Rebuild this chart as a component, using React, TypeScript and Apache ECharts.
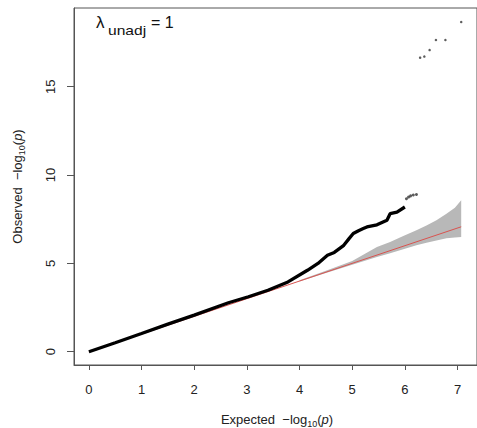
import React, { useEffect, useRef } from "react";
import * as echarts from "echarts";

// Observed vs expected -log10(p), main dense part of the curve
const curveX = [0, 0.5, 1, 1.5, 2, 2.65, 3.03, 3.4, 3.78, 4.15, 4.35, 4.53, 4.66, 4.84, 4.94, 5.02, 5.12, 5.21, 5.28, 5.47, 5.66, 5.72, 5.85, 6.0];
const curveY = [0, 0.51, 1.03, 1.56, 2.07, 2.77, 3.11, 3.48, 3.95, 4.61, 5.0, 5.46, 5.62, 6.02, 6.4, 6.69, 6.85, 6.97, 7.06, 7.18, 7.44, 7.81, 7.9, 8.19];
// small cluster just after the gap
const clusterX = [6.03, 6.07, 6.11, 6.16, 6.22];
const clusterY = [8.66, 8.75, 8.82, 8.87, 8.9];
// isolated top hits
const topX = [6.29, 6.37, 6.47, 6.59, 6.77, 7.07];
const topY = [16.64, 16.7, 17.07, 17.64, 17.64, 18.66];
// confidence band
const bandX = [4.0, 4.5, 5.0, 5.47, 5.72, 5.97, 6.22, 6.41, 6.6, 6.79, 6.95, 7.07];
const bandLo = [3.97, 4.45, 4.92, 5.36, 5.58, 5.8, 6.02, 6.17, 6.3, 6.42, 6.47, 6.49];
const bandHi = [4.04, 4.58, 5.14, 5.93, 6.21, 6.55, 6.87, 7.15, 7.44, 7.81, 8.15, 8.57];
// null line y = x
const nullX = [0, 7.07];
const xTicks = [0, 1, 2, 3, 4, 5, 6, 7];
const yTicks = [0, 5, 10, 15];

const FONT = "Liberation Sans, Arial, Helvetica, sans-serif";

export default function App() {
  const ref = useRef<HTMLDivElement>(null);
  useEffect(() => {
    if (!ref.current) return;
    const chart = echarts.init(ref.current, null, { renderer: "svg" });
    const axisColor = "#555";
    const rich = {
      n: { fontSize: 13, fontFamily: FONT, fill: "#222", lineHeight: 16, verticalAlign: "bottom" },
      s: { fontSize: 9, fontFamily: FONT, fill: "#222", lineHeight: 16, verticalAlign: "bottom", padding: [0, 0, -2, 0] },
      i: { fontSize: 13, fontFamily: FONT, fill: "#222", fontStyle: "italic", lineHeight: 16, verticalAlign: "bottom" },
    };
    chart.setOption({
      animation: false,
      backgroundColor: "#fff",
      grid: { left: 74, top: 8, right: -4, bottom: 63, show: true, borderColor: axisColor, borderWidth: 1, backgroundColor: "transparent" },
      xAxis: {
        type: "value",
        min: -0.283,
        max: 7.37,
        splitLine: { show: false },
        axisLine: { show: true, onZero: false, lineStyle: { color: axisColor } },
        axisTick: { show: true, length: 5, lineStyle: { color: axisColor }, customValues: xTicks },
        axisLabel: { color: "#222", fontSize: 13, fontFamily: FONT, margin: 18, customValues: xTicks },
      },
      yAxis: {
        type: "value",
        min: -0.75,
        max: 19.45,
        splitLine: { show: false },
        axisLine: { show: true, onZero: false, lineStyle: { color: axisColor } },
        axisTick: { show: true, length: 7, lineStyle: { color: axisColor }, customValues: yTicks },
        axisLabel: { color: "#222", fontSize: 13, fontFamily: FONT, margin: 17, rotate: 90, customValues: yTicks },
      },
      series: [
        {
          type: "custom",
          z: 1,
          data: [0],
          renderItem: (params: any, api: any) => {
            const pts: number[][] = [];
            for (let i = 0; i < bandX.length; i++) pts.push(api.coord([bandX[i], bandHi[i]]));
            for (let i = bandX.length - 1; i >= 0; i--) pts.push(api.coord([bandX[i], bandLo[i]]));
            return { type: "polygon", shape: { points: pts }, style: { fill: "#b8b8b8", stroke: "none" } };
          },
        },
        {
          type: "line",
          z: 2,
          data: nullX.map((x) => [x, x]),
          symbol: "none",
          lineStyle: { color: "#d9534f", width: 1 },
        },
        {
          type: "line",
          z: 3,
          data: curveX.map((x, i) => [x, curveY[i]]),
          symbol: "none",
          lineStyle: { color: "#000", width: 3.3 },
        },
        {
          type: "scatter",
          z: 3,
          data: clusterX.map((x, i) => [x, clusterY[i]]),
          symbol: "circle",
          symbolSize: 3,
          itemStyle: { color: "#333" },
        },
        {
          type: "scatter",
          z: 3,
          data: topX.map((x, i) => [x, topY[i]]),
          symbol: "circle",
          symbolSize: 2.5,
          itemStyle: { color: "#333" },
        },
      ],
      graphic: [
        { type: "text", left: 96, top: 14, style: { text: "λ", fontSize: 17, fontFamily: FONT, fill: "#111" } },
        { type: "text", x: 108, y: 24, scaleX: 1.2, style: { text: "unadj", fontSize: 13, fontFamily: FONT, fill: "#111" } },
        { type: "text", left: 151, top: 14, style: { text: "= 1", fontSize: 16, fontFamily: FONT, fill: "#111" } },
        {
          type: "text",
          x: 277,
          y: 418,
          style: { text: "{n|Expected  −log}{s|10}{n|(}{i|p}{n|)}", align: "center", verticalAlign: "middle", fill: "#222", rich },
        },
        {
          type: "text",
          x: 16,
          y: 186.5,
          rotation: Math.PI / 2,
          style: { text: "{n|Observed  −log}{s|10}{n|(}{i|p}{n|)}", align: "center", verticalAlign: "middle", fill: "#222", rich },
        },
      ],
    });
    return () => chart.dispose();
  }, []);
  return <div ref={ref} style={{ position: "fixed", left: 0, top: 0, width: 477, height: 428 }} />;
}
